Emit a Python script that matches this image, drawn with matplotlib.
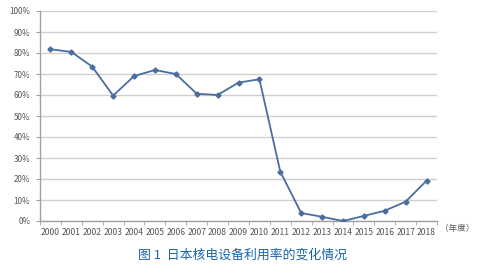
import matplotlib
matplotlib.use("Agg")
import matplotlib.pyplot as plt
from matplotlib.ticker import FuncFormatter, MultipleLocator

plt.rcParams['font.family'] = ['Noto Sans CJK SC', 'DejaVu Sans']

years = ['2000', '2001', '2002', '2003', '2004', '2005', '2006', '2007', '2008', '2009',
         '2010', '2011', '2012', '2013', '2014', '2015', '2016', '2017', '2018']
rates = [81.8, 80.5, 73.5, 59.7, 69.0, 71.9, 70.0, 60.6, 60.0, 65.9,
         67.5, 23.5, 3.8, 2.0, 0.0, 2.4, 4.9, 9.2, 19.2]
caption = '图 1  日本核电设备利用率的变化情况'
unit = '（年度）'

fig = plt.figure(figsize=(4.97, 2.75), dpi=100)
ax = fig.add_axes([40 / 497, 1 - 221 / 275, 397 / 497, 210 / 275])

x = list(range(len(years)))
ax.plot(x, rates, color='#4a6e9f', lw=1.3, marker='D', ms=2.6, zorder=3)

ax.set_xlim(-0.5, len(years) - 0.5)
ax.set_ylim(0, 100)
ax.yaxis.set_major_locator(MultipleLocator(10))
ax.yaxis.set_major_formatter(FuncFormatter(lambda v, p: '%d%%' % v))
ax.grid(axis='y', color='#d0d0d0', lw=1)
ax.set_axisbelow(True)

ax.set_xticks(x)
ax.set_xticklabels(years)
ax.set_xticks([i + 0.5 for i in range(-1, len(years))], minor=True)
ax.tick_params(axis='x', which='major', length=0, labelsize=6.2, colors='#555555', pad=5)
ax.tick_params(axis='x', which='minor', length=3, color='#a0a0a0')
ax.tick_params(axis='y', length=3, color='#a0a0a0', labelsize=5.8, labelcolor='#555555', pad=4)

for s in ['top', 'right']:
    ax.spines[s].set_visible(False)
for s in ['left', 'bottom']:
    ax.spines[s].set_color('#a0a0a0')
    ax.spines[s].set_linewidth(1)

fig.text(440 / 497, 1 - 229 / 275, unit, fontsize=6.2, color='#555555', va='center', ha='left')
fig.text(242 / 497, 1 - 255 / 275, caption, fontsize=9.3, color='#1a64ad',
         va='center', ha='center', fontweight='medium')

fig.savefig('out.png', dpi=100)
